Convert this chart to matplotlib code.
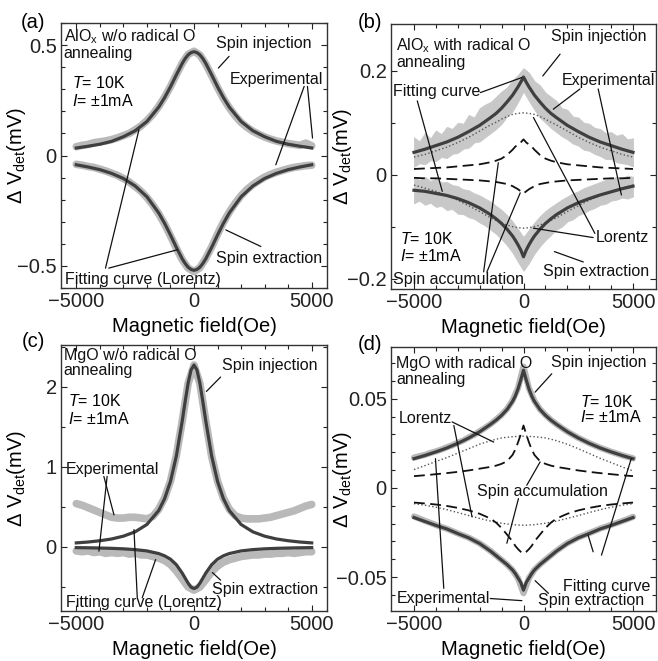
"""
Four panels of Hanle-type spin signals (AlOx / MgO, with and without radical O annealing)
"""
import matplotlib.pyplot as plt
import numpy as np

plt.rcParams["font.family"] = ["Liberation Sans", "DejaVu Sans"]
plt.rcParams["mathtext.fontset"] = "custom"
plt.rcParams["mathtext.rm"] = "Liberation Sans"
plt.rcParams["mathtext.it"] = "Liberation Sans:italic"

# field grid of the measured traces (Oe)
FIELD = np.arange(-5000, 5001, 250)
# field grid of the fitted curves (Oe), denser near zero
FIT_FIELD = [-5000, -4500, -4000, -3500, -3000, -2500, -2000, -1500, -1250, -1000,
             -750, -500, -375, -250, -125, 0, 125, 250, 375, 500, 750, 1000,
             1250, 1500, 2000, 2500, 3000, 3500, 4000, 4500, 5000]

# ---- (a) AlOx w/o radical O annealing (mV) ----
a_inj_exp = [0.040, 0.046, 0.050, 0.058, 0.062, 0.066, 0.072, 0.080, 0.090, 0.100,
             0.116, 0.134, 0.158, 0.186, 0.222, 0.264, 0.312, 0.366, 0.418, 0.458,
             0.472, 0.455, 0.414, 0.362, 0.308, 0.258, 0.216, 0.180, 0.150, 0.128,
             0.110, 0.096, 0.084, 0.074, 0.066, 0.060, 0.054, 0.050, 0.046, 0.056,
             0.044]
a_ext_exp = [-0.040, -0.044, -0.050, -0.054, -0.062, -0.070, -0.080, -0.090, -0.104,
             -0.120, -0.140, -0.162, -0.190, -0.224, -0.264, -0.310, -0.364, -0.420,
             -0.472, -0.510, -0.526, -0.508, -0.466, -0.414, -0.356, -0.302, -0.256,
             -0.216, -0.182, -0.154, -0.132, -0.114, -0.098, -0.086, -0.076, -0.068,
             -0.060, -0.054, -0.050, -0.046, -0.044]
a_inj_fit = [0.034, 0.042, 0.051, 0.064, 0.085, 0.112, 0.154, 0.219, 0.262, 0.311,
             0.365, 0.417, 0.439, 0.456, 0.466, 0.470, 0.466, 0.456, 0.439, 0.417,
             0.365, 0.311, 0.262, 0.219, 0.154, 0.112, 0.085, 0.064, 0.051, 0.042,
             0.034]
a_ext_fit = [-0.042, -0.052, -0.064, -0.081, -0.104, -0.138, -0.187, -0.260, -0.307,
             -0.360, -0.416, -0.468, -0.489, -0.506, -0.516, -0.520, -0.516, -0.506,
             -0.489, -0.468, -0.416, -0.360, -0.307, -0.260, -0.187, -0.138, -0.104,
             -0.081, -0.064, -0.052, -0.042]

# ---- (b) AlOx with radical O annealing (mV): noisy traces given as bands ----
b_inj_hi = [0.072, 0.064, 0.080, 0.070, 0.085, 0.078, 0.092, 0.088, 0.100, 0.098,
            0.115, 0.110, 0.128, 0.135, 0.140, 0.150, 0.160, 0.168, 0.182, 0.192,
            0.205, 0.196, 0.180, 0.172, 0.158, 0.150, 0.142, 0.128, 0.125, 0.112,
            0.110, 0.100, 0.098, 0.090, 0.088, 0.080, 0.082, 0.075, 0.078, 0.068,
            0.070]
b_inj_lo = [0.015, 0.022, 0.020, 0.028, 0.026, 0.034, 0.032, 0.040, 0.042, 0.050,
            0.052, 0.062, 0.064, 0.072, 0.080, 0.088, 0.098, 0.112, 0.122, 0.140,
            0.160, 0.142, 0.125, 0.110, 0.100, 0.090, 0.082, 0.074, 0.068, 0.060,
            0.056, 0.048, 0.046, 0.040, 0.036, 0.030, 0.030, 0.024, 0.022, 0.020,
            0.016]
b_ext_hi = [-0.005, -0.010, -0.004, -0.012, -0.008, -0.015, -0.014, -0.020, -0.022,
            -0.028, -0.030, -0.036, -0.040, -0.046, -0.052, -0.060, -0.068, -0.078,
            -0.090, -0.105, -0.120, -0.106, -0.092, -0.080, -0.070, -0.062, -0.055,
            -0.048, -0.042, -0.036, -0.032, -0.026, -0.022, -0.018, -0.014, -0.010,
            -0.008, -0.004, -0.006, -0.002, -0.004]
b_ext_lo = [-0.055, -0.050, -0.058, -0.054, -0.062, -0.060, -0.068, -0.066, -0.075,
            -0.076, -0.082, -0.085, -0.092, -0.098, -0.106, -0.114, -0.124, -0.136,
            -0.150, -0.168, -0.185, -0.170, -0.152, -0.138, -0.126, -0.116, -0.106,
            -0.100, -0.090, -0.086, -0.078, -0.074, -0.068, -0.064, -0.058, -0.056,
            -0.050, -0.048, -0.044, -0.046, -0.042]
b_inj_fit = [0.043, 0.049, 0.056, 0.063, 0.072, 0.083, 0.095, 0.110, 0.118, 0.128,
             0.140, 0.153, 0.161, 0.169, 0.178, 0.188, 0.178, 0.169, 0.161, 0.153,
             0.140, 0.128, 0.118, 0.110, 0.095, 0.083, 0.072, 0.063, 0.056, 0.049,
             0.043]
b_ext_fit = [-0.030, -0.032, -0.036, -0.040, -0.046, -0.054, -0.064, -0.077, -0.085,
             -0.094, -0.105, -0.118, -0.126, -0.135, -0.145, -0.158, -0.145, -0.135,
             -0.126, -0.118, -0.105, -0.094, -0.085, -0.077, -0.064, -0.054, -0.046,
             -0.039, -0.033, -0.027, -0.022]
b_lor_up = [0.034, 0.039, 0.046, 0.053, 0.062, 0.072, 0.084, 0.096, 0.101, 0.107,
            0.112, 0.116, 0.117, 0.118, 0.1185, 0.119, 0.1185, 0.118, 0.117, 0.116,
            0.112, 0.107, 0.101, 0.096, 0.084, 0.072, 0.062, 0.053, 0.046, 0.039,
            0.034]
b_lor_dn = [-0.020, -0.026, -0.032, -0.040, -0.049, -0.060, -0.071, -0.083, -0.088,
            -0.093, -0.097, -0.100, -0.101, -0.102, -0.1025, -0.103, -0.1025, -0.102,
            -0.101, -0.100, -0.097, -0.093, -0.088, -0.083, -0.071, -0.060, -0.049,
            -0.040, -0.032, -0.026, -0.020]
b_acc_up = [0.011, 0.012, 0.013, 0.014, 0.016, 0.018, 0.020, 0.024, 0.027, 0.031,
            0.038, 0.048, 0.054, 0.058, 0.062, 0.068, 0.062, 0.058, 0.054, 0.048,
            0.038, 0.031, 0.027, 0.024, 0.020, 0.018, 0.016, 0.014, 0.013, 0.012,
            0.011]
b_acc_dn = [-0.006, -0.007, -0.007, -0.008, -0.009, -0.010, -0.011, -0.013, -0.014,
            -0.016, -0.018, -0.022, -0.025, -0.028, -0.032, -0.036, -0.032, -0.028,
            -0.025, -0.022, -0.018, -0.016, -0.014, -0.013, -0.011, -0.010, -0.009,
            -0.008, -0.007, -0.007, -0.006]

# ---- (c) MgO w/o radical O annealing (mV) ----
c_inj_exp = [0.54, 0.52, 0.49, 0.46, 0.43, 0.40, 0.37, 0.36, 0.36, 0.37, 0.37, 0.36,
             0.35, 0.38, 0.47, 0.61, 0.82, 1.14, 1.57, 2.04, 2.27, 2.04, 1.57, 1.13,
             0.82, 0.61, 0.47, 0.39, 0.36, 0.35, 0.35, 0.35, 0.36, 0.37, 0.39, 0.41,
             0.43, 0.45, 0.48, 0.51, 0.53]
c_ext_exp = [-0.05, -0.06, -0.05, -0.07, -0.06, -0.08, -0.07, -0.08, -0.07, -0.09,
             -0.08, -0.10, -0.10, -0.12, -0.14, -0.17, -0.22, -0.30, -0.40, -0.50,
             -0.54, -0.50, -0.41, -0.31, -0.24, -0.19, -0.16, -0.14, -0.12, -0.11,
             -0.10, -0.10, -0.09, -0.09, -0.08, -0.08, -0.07, -0.08, -0.07, -0.06,
             -0.06]
c_inj_fit = [0.050, 0.061, 0.077, 0.099, 0.134, 0.188, 0.280, 0.454, 0.601, 0.817,
             1.135, 1.572, 1.816, 2.043, 2.209, 2.270, 2.209, 2.043, 1.816, 1.572,
             1.135, 0.817, 0.601, 0.454, 0.280, 0.188, 0.134, 0.099, 0.077, 0.061,
             0.050]
c_ext_fit = [-0.009, -0.011, -0.014, -0.018, -0.024, -0.034, -0.050, -0.083, -0.111,
             -0.153, -0.222, -0.327, -0.390, -0.453, -0.503, -0.520, -0.503, -0.453,
             -0.390, -0.327, -0.222, -0.153, -0.111, -0.083, -0.050, -0.034, -0.024,
             -0.018, -0.014, -0.011, -0.009]

# ---- (d) MgO with radical O annealing (mV) ----
d_inj_exp = [0.0170, 0.0178, 0.0185, 0.0196, 0.0205, 0.0215, 0.0228, 0.0239, 0.0253,
             0.0266, 0.0283, 0.0298, 0.0318, 0.0337, 0.0358, 0.0383, 0.0410, 0.0443,
             0.0490, 0.0560, 0.0680, 0.0558, 0.0488, 0.0441, 0.0409, 0.0381, 0.0358,
             0.0336, 0.0316, 0.0298, 0.0281, 0.0266, 0.0251, 0.0238, 0.0225, 0.0214,
             0.0203, 0.0193, 0.0183, 0.0174, 0.0166]
d_ext_exp = [-0.0160, -0.0172, -0.0185, -0.0196, -0.0208, -0.0219, -0.0229, -0.0242,
             -0.0255, -0.0267, -0.0279, -0.0295, -0.0311, -0.0332, -0.0354, -0.0379,
             -0.0404, -0.0430, -0.0461, -0.0507, -0.0590, -0.0506, -0.0459, -0.0429,
             -0.0403, -0.0378, -0.0353, -0.0331, -0.0310, -0.0294, -0.0278, -0.0266,
             -0.0253, -0.0241, -0.0228, -0.0218, -0.0207, -0.0197, -0.0186, -0.0175,
             -0.0162]
d_inj_fit = [0.0164, 0.0182, 0.0202, 0.0224, 0.0250, 0.0280, 0.0315, 0.0357, 0.0380,
             0.0407, 0.0440, 0.0485, 0.0515, 0.0555, 0.0605, 0.0660, 0.0605, 0.0555,
             0.0515, 0.0485, 0.0440, 0.0407, 0.0380, 0.0357, 0.0315, 0.0280, 0.0250,
             0.0224, 0.0202, 0.0182, 0.0164]
d_ext_fit = [-0.0166, -0.0188, -0.0210, -0.0230, -0.0256, -0.0280, -0.0312, -0.0355,
             -0.0380, -0.0405, -0.0430, -0.0460, -0.0480, -0.0505, -0.0530, -0.0573,
             -0.0530, -0.0505, -0.0480, -0.0460, -0.0430, -0.0405, -0.0380, -0.0355,
             -0.0312, -0.0280, -0.0256, -0.0230, -0.0210, -0.0188, -0.0166]
d_lor_up = [0.0103, 0.0125, 0.0148, 0.0170, 0.0195, 0.0220, 0.0245, 0.0265, 0.0273,
            0.0280, 0.0284, 0.0287, 0.0288, 0.0289, 0.0290, 0.0290, 0.0290, 0.0289,
            0.0288, 0.0287, 0.0284, 0.0280, 0.0273, 0.0265, 0.0245, 0.0220, 0.0193,
            0.0166, 0.0142, 0.0118, 0.0095]
d_lor_dn = [-0.0088, -0.0097, -0.0108, -0.0122, -0.0138, -0.0155, -0.0171, -0.0186,
            -0.0192, -0.0198, -0.0202, -0.0206, -0.0207, -0.0208, -0.0209, -0.0209,
            -0.0209, -0.0208, -0.0207, -0.0206, -0.0202, -0.0198, -0.0192, -0.0186,
            -0.0171, -0.0155, -0.0138, -0.0122, -0.0108, -0.0097, -0.0088]
d_acc_up = [0.0066, 0.0071, 0.0077, 0.0083, 0.0090, 0.0098, 0.0108, 0.0118, 0.0125,
            0.0135, 0.0150, 0.0185, 0.0215, 0.0255, 0.0300, 0.0350, 0.0300, 0.0255,
            0.0215, 0.0185, 0.0150, 0.0135, 0.0125, 0.0118, 0.0108, 0.0098, 0.0090,
            0.0083, 0.0077, 0.0071, 0.0066]
d_acc_dn = [-0.0082, -0.0087, -0.0093, -0.0101, -0.0112, -0.0126, -0.0145, -0.0172,
            -0.0195, -0.0225, -0.0262, -0.0300, -0.0325, -0.0343, -0.0358, -0.0368,
            -0.0358, -0.0343, -0.0325, -0.0300, -0.0262, -0.0225, -0.0195, -0.0172,
            -0.0145, -0.0126, -0.0112, -0.0101, -0.0093, -0.0087, -0.0082]

EXP_GRAY = "#b9b9b9"
FIT_GRAY = "#3f3f3f"
FIG_W, FIG_H = 658, 661
TICK_SIZE = 14.5
NOTE_SIZE = 11.5


def px_axes(fig, left, top, right, bottom):
    """Add axes from pixel edges of the frame"""
    return fig.add_axes([left / FIG_W, 1 - bottom / FIG_H,
                         (right - left) / FIG_W, (bottom - top) / FIG_H])


def style_axes(ax, xlim, ylim, yticks, yminor, ylabel_x):
    ax.set_xlim(*xlim)
    ax.set_ylim(*ylim)
    ax.set_xticks([-5000, 0, 5000])
    ax.set_xticks(np.arange(-5000, 5001, 1000), minor=True)
    ax.set_yticks(yticks)
    ax.set_yticklabels([fmt_num(v) for v in yticks])
    ax.set_yticks(yminor, minor=True)
    ax.tick_params(which="both", direction="in", top=True, right=True,
                   labelsize=TICK_SIZE, width=0.8, colors="#222222", pad=3)
    ax.tick_params(which="major", length=4)
    ax.tick_params(which="minor", length=3)
    for sp in ax.spines.values():
        sp.set_linewidth(1.0)
        sp.set_color("#333333")
    ax.set_xlabel("Magnetic field(Oe)", fontsize=TICK_SIZE, labelpad=4)
    ax.set_ylabel("Δ V$_{\\mathrm{det}}$(mV)", fontsize=TICK_SIZE)
    ax.yaxis.set_label_coords(ylabel_x, 0.5)


def fmt_num(v):
    if v == 0:
        return "0"
    return f"{v:g}".replace("-", "\u2212")


def note(ax, text, pos, leaders, ha="center"):
    """Label plus plain leader lines (data coordinates)"""
    ax.text(pos[0], pos[1], text, fontsize=NOTE_SIZE, ha=ha, va="center",
            color="#111111", zorder=6)
    for x0, y0, x1, y1 in leaders:
        ax.annotate("", xy=(x1, y1), xytext=(x0, y0),
                    arrowprops=dict(arrowstyle="-", lw=0.9, color="#111111",
                                    shrinkA=0, shrinkB=0), zorder=6)


def header(ax, text, x, y, ha="left"):
    ax.text(x, y, text, transform=ax.transAxes, fontsize=NOTE_SIZE, ha=ha,
            va="top", linespacing=1.05, color="#111111")


def conditions(ax, x, y1, y2):
    ax.text(x, y1, "$\\mathit{T}$= 10K", transform=ax.transAxes,
            fontsize=NOTE_SIZE, va="center")
    ax.text(x, y2, "$\\mathit{I}$= ±1mA", transform=ax.transAxes,
            fontsize=NOTE_SIZE, va="center")


def draw_exp_fit(ax, exp_series, fit_series, lw_exp=5.5):
    for ys in exp_series:
        ax.plot(FIELD, ys, color=EXP_GRAY, lw=lw_exp, solid_capstyle="round",
                solid_joinstyle="round", zorder=1)
    for ys in fit_series:
        ax.plot(FIT_FIELD, ys, color=FIT_GRAY, lw=2.3, zorder=4)


def panel_a(fig):
    ax = px_axes(fig, 61, 23, 327, 288)
    draw_exp_fit(ax, [a_inj_exp, a_ext_exp], [a_inj_fit, a_ext_fit])
    style_axes(ax, (-5650, 5650), (-0.6, 0.6), [-0.5, 0, 0.5],
               np.arange(-0.6, 0.61, 0.1), -0.125)
    header(ax, "AlO$_{\\mathrm{x}}$ w/o radical O\nannealing", 0.01, 0.985)
    conditions(ax, 0.04, 0.775, 0.705)
    note(ax, "Spin injection", (2980, 0.509), [(1490, 0.449, 1035, 0.396)])
    note(ax, "Experimental", (3500, 0.346),
         [(4680, 0.313, 3475, -0.042), (4820, 0.313, 5035, 0.079)])
    note(ax, "Spin extraction", (3190, -0.465), [(2840, -0.412, 1350, -0.337)])
    note(ax, "Fitting curve (Lorentz)", (-2170, -0.563),
         [(-3760, -0.51, -2340, 0.116), (-3620, -0.51, -710, -0.427)])
    return ax


def panel_b(fig):
    ax = px_axes(fig, 391, 24, 656, 289)
    ax.fill_between(FIELD, b_inj_lo, b_inj_hi, color="#c8c8c8", lw=0.6,
                    edgecolor="#c8c8c8", zorder=1)
    ax.fill_between(FIELD, b_ext_lo, b_ext_hi, color="#c8c8c8", lw=0.6,
                    edgecolor="#c8c8c8", zorder=1)
    for ys in (b_lor_up, b_lor_dn):
        ax.plot(FIT_FIELD, ys, color="#555555", lw=1.0, ls=":", zorder=3)
    for ys in (b_acc_up, b_acc_dn):
        ax.plot(FIT_FIELD, ys, color="#111111", lw=1.3, dashes=(6, 3), zorder=3)
    for ys in (b_inj_fit, b_ext_fit):
        ax.plot(FIT_FIELD, ys, color=FIT_GRAY, lw=2.3, zorder=4)
    style_axes(ax, (-6050, 6050), (-0.22, 0.29), [-0.2, 0, 0.2],
               [-0.2, -0.1, 0, 0.1, 0.2], -0.14)
    header(ax, "AlO$_{\\mathrm{x}}$ with radical O\nannealing", 0.02, 0.955)
    conditions(ax, 0.033, 0.19, 0.125)
    note(ax, "Spin injection", (3440, 0.266), [(1670, 0.232, 880, 0.190)])
    note(ax, "Experimental", (3860, 0.181),
         [(2580, 0.165, 1360, 0.126), (3410, 0.165, 4470, -0.039)])
    note(ax, "Fitting curve", (-3980, 0.161),
         [(-1970, 0.158, -75, 0.187), (-4850, 0.142, -3710, -0.032)])
    note(ax, "Lorentz", (4500, -0.121),
         [(3260, -0.113, 455, 0.110), (3180, -0.121, 455, -0.103)])
    note(ax, "Spin extraction", (3330, -0.187), [(1410, -0.148, 2730, -0.168)])
    note(ax, "Spin accumulation", (-2950, -0.202),
         [(-1820, -0.187, -1150, 0.023), (-1670, -0.187, -150, -0.035)])
    return ax


def panel_c(fig):
    ax = px_axes(fig, 61, 345, 327, 611)
    draw_exp_fit(ax, [c_inj_exp, c_ext_exp], [c_inj_fit, c_ext_fit])
    style_axes(ax, (-5650, 5650), (-0.8, 2.52), [0, 1, 2],
               [-0.5, 0, 0.5, 1, 1.5, 2, 2.5], -0.125)
    header(ax, "MgO w/o radical O\nannealing", 0.01, 0.99)
    conditions(ax, 0.026, 0.79, 0.722)
    note(ax, "Spin injection", (3220, 2.27), [(1130, 2.12, 525, 1.94)])
    note(ax, "Experimental", (-3450, 0.96),
         [(-3830, 0.88, -3400, 0.40), (-3690, 0.88, -4040, -0.054)])
    note(ax, "Fitting curve (Lorentz)", (-2130, -0.70),
         [(-2410, -0.635, -2550, 0.216), (-2200, -0.635, -1630, -0.158)])
    note(ax, "Spin extraction", (3010, -0.53), [(1130, -0.415, 780, -0.32)])
    return ax


def panel_d(fig):
    ax = px_axes(fig, 391, 347, 656, 611)
    draw_exp_fit(ax, [d_inj_exp, d_ext_exp], [], lw_exp=4.5)
    for ys in (d_lor_up, d_lor_dn):
        ax.plot(FIT_FIELD, ys, color="#555555", lw=1.0, ls=":", zorder=3)
    for ys in (d_acc_up, d_acc_dn):
        ax.plot(FIT_FIELD, ys, color="#111111", lw=1.3, dashes=(6, 3), zorder=3)
    for ys in (d_inj_fit, d_ext_fit):
        ax.plot(FIT_FIELD, ys, color=FIT_GRAY, lw=2.3, zorder=4)
    style_axes(ax, (-6050, 6050), (-0.069, 0.079), [-0.05, 0, 0.05],
               np.arange(-0.06, 0.071, 0.01), -0.14)
    header(ax, "MgO with radical O\nannealing", 0.02, 0.965)
    conditions(ax, 0.714, 0.79, 0.735)
    note(ax, "Spin injection", (3440, 0.0705), [(1290, 0.064, 530, 0.0537)])
    note(ax, "Lorentz", (-4470, 0.0388),
         [(-3260, 0.037, -1360, 0.0257), (-3180, 0.035, -2350, -0.0162)])
    note(ax, "Spin accumulation", (860, -0.0022),
         [(150, 0.0015, 760, 0.0146), (-230, -0.006, -760, -0.031)])
    note(ax, "Fitting curve", (3820, -0.0554),
         [(3180, -0.0358, 2950, -0.0265), (3560, -0.0377, 4920, 0.0164)])
    note(ax, "Spin extraction", (3100, -0.0629), [(1140, -0.0591, 530, -0.052)])
    note(ax, "Experimental", (-3640, -0.062),
         [(-3640, -0.0563, -4020, 0.0164), (-1520, -0.062, -75, -0.0632)])
    return ax


def main():
    fig = plt.figure(figsize=(FIG_W / 100, FIG_H / 100), dpi=100)
    panel_a(fig)
    panel_b(fig)
    panel_c(fig)
    panel_d(fig)

    # panel letters
    for label, x, y in [("(a)", 33, 22), ("(b)", 370, 22), ("(c)", 33, 342),
                        ("(d)", 370, 345)]:
        fig.text(x / FIG_W, 1 - y / FIG_H, label, fontsize=TICK_SIZE,
                 ha="center", va="center")

    fig.savefig("out.png", dpi=100)


if __name__ == "__main__":
    main()
